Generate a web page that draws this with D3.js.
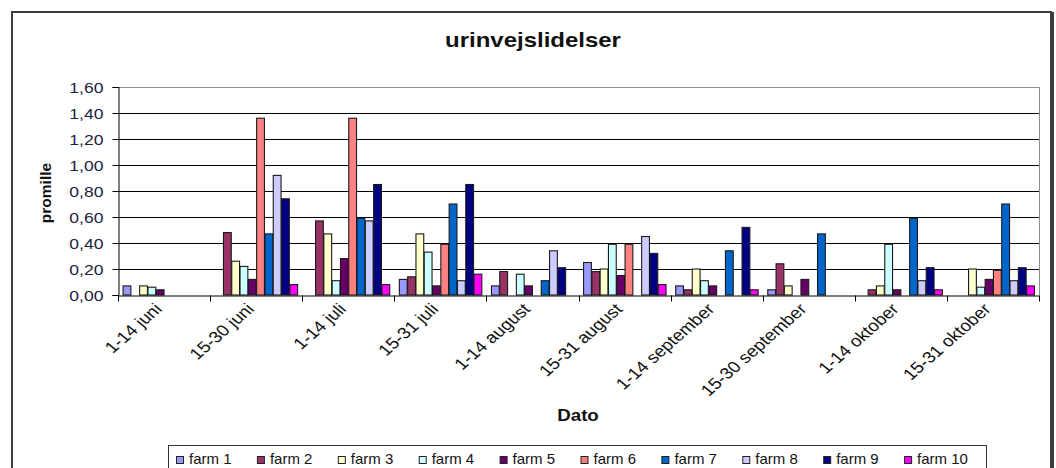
<!DOCTYPE html>
<html><head><meta charset="utf-8">
<script src="https://cdn.jsdelivr.net/npm/d3@7"></script>
<style>
html,body{margin:0;padding:0;background:#fff;}
svg{display:block;font-family:"Liberation Sans",Arial,sans-serif;}
</style></head>
<body>
<svg id="c" width="1056" height="468"></svg>
<script>
const categories = ["1-14 juni","15-30 juni","1-14 juli","15-31 juli","1-14 august","15-31 august","1-14 september","15-30 september","1-14 oktober","15-31 oktober"];
const seriesNames = ["farm 1","farm 2","farm 3","farm 4","farm 5","farm 6","farm 7","farm 8","farm 9","farm 10"];
const farm1  = [0.07,0,0,0.12,0.07,0.25,0.07,0.04,0,0];
const farm2  = [0,0.48,0.57,0.14,0.18,0.18,0.04,0.24,0.04,0];
const farm3  = [0.07,0.26,0.47,0.47,0,0.20,0.20,0.07,0.07,0.20];
const farm4  = [0.06,0.22,0.11,0.33,0.16,0.39,0.11,0,0.39,0.06];
const farm5  = [0.04,0.12,0.28,0.07,0.07,0.15,0.07,0.12,0.04,0.12];
const farm6  = [0,1.36,1.36,0.39,0,0.39,0,0,0,0.19];
const farm7  = [0,0.47,0.59,0.70,0.11,0,0.34,0.47,0.59,0.70];
const farm8  = [0,0.92,0.57,0.11,0.34,0.45,0,0,0.11,0.11];
const farm9  = [0,0.74,0.85,0.85,0.21,0.32,0.52,0,0.21,0.21];
const farm10 = [0,0.08,0.08,0.16,0,0.08,0.04,0,0.04,0.07];
const yTicks = [0,0.2,0.4,0.6,0.8,1.0,1.2,1.4,1.6];
const colors = ["#9999FF","#993366","#FFFFCC","#CCFFFF","#660066","#FF8080","#0066CC","#CCCCFF","#000080","#FF00FF"];
const title = "urinvejslidelser", xTitle = "Dato", yTitle = "promille";

const values = [farm1,farm2,farm3,farm4,farm5,farm6,farm7,farm8,farm9,farm10];
const SX = 1.17; // horizontal stretch of the text in the reference

const svg = d3.select("#c");
const L = 118, R = 1039, T = 87, B = 295;

// outer frame
svg.append("rect").attr("x",12).attr("y",12).attr("width",1039).attr("height",470)
  .attr("fill","#fff").attr("stroke","#3c3c3c").attr("stroke-width",2);
svg.append("line").attr("x1",1052.5).attr("x2",1052.5).attr("y1",12).attr("y2",468)
  .attr("stroke","#3c3c3c").attr("stroke-width",3);

const x0 = d3.scaleBand().domain(categories).range([L,R]).padding(0);
const x1 = d3.scaleBand().domain(seriesNames).range([0,x0.bandwidth()]).paddingInner(0).paddingOuter(0.55);
const y = d3.scaleLinear().domain([0,1.6]).range([B,T]);

const fmt = v => d3.format(".2f")(v).replace(".",",");

// gridlines
svg.append("g").selectAll("line").data(yTicks.slice(1)).join("line")
  .attr("x1",L).attr("x2",R).attr("y1",d=>Math.round(y(d))+0.5).attr("y2",d=>Math.round(y(d))+0.5)
  .attr("stroke",(d,i,a)=> i===a.length-1 ? "#8c8c8c" : "#000").attr("stroke-width",1);
// plot area right border
svg.append("line").attr("x1",R+0.5).attr("x2",R+0.5).attr("y1",T).attr("y2",B)
  .attr("stroke","#8c8c8c");

// bars
const g = svg.append("g");
seriesNames.forEach((s,si)=>{
  g.append("g").selectAll("rect").data(values[si].map((v,ci)=>({v,c:categories[ci]}))).join("rect")
    .filter(d=>d.v>0)
    .attr("x",d=>x0(d.c)+x1(s)+0.5)
    .attr("y",d=>y(d.v))
    .attr("width",x1.bandwidth()-0.5)
    .attr("height",d=>B-y(d.v))
    .attr("fill",colors[si]).attr("stroke","#1a1a1a").attr("stroke-width",1.1);
});

// y axis
const yAxis = d3.axisLeft(y).tickValues(yTicks).tickSize(6).tickFormat(fmt);
const ya = svg.append("g").attr("transform",`translate(${L+0.5},0)`).call(yAxis);
ya.select(".domain").attr("stroke","#000");
ya.selectAll(".tick line").attr("stroke","#000");
ya.selectAll(".tick text").attr("font-size",15).attr("fill","#1c2340")
  .attr("x",0).attr("dy","0.35em")
  .attr("transform",d=>`translate(-15,0) scale(${SX},1)`);

// x axis
const xAxis = d3.axisBottom(x0).tickSize(0).tickFormat("");
const xa = svg.append("g").attr("transform",`translate(0,${B+0.5})`).call(xAxis);
xa.select(".domain").attr("stroke","#000");
xa.append("g").selectAll("line").data(d3.range(categories.length+1)).join("line")
  .attr("x1",i=>Math.round(L+i*x0.step())+0.5).attr("x2",i=>Math.round(L+i*x0.step())+0.5)
  .attr("y1",0).attr("y2",6).attr("stroke","#000");

svg.append("g").selectAll("text").data(categories).join("text")
  .attr("transform",d=>`translate(${x0(d)+x0.bandwidth()/2-1},${B+15}) scale(1.18,1) rotate(-46)`)
  .attr("text-anchor","end").attr("font-size",16).attr("fill","#111")
  .text(d=>d);

// titles
svg.append("text").attr("transform",`translate(533,47) scale(${SX},1)`).attr("text-anchor","middle")
  .attr("font-size",20.5).attr("font-weight","bold").attr("fill","#111").text(title);
svg.append("text").attr("transform",`translate(578,421) scale(${SX},1)`).attr("text-anchor","middle")
  .attr("font-size",16).attr("font-weight","bold").attr("fill","#111").text(xTitle);
svg.append("text").attr("transform",`translate(51,193) rotate(-90)`).attr("text-anchor","middle")
  .attr("font-size",15.5).attr("font-weight","bold").attr("fill","#111").text(yTitle);

// legend
svg.append("rect").attr("x",168.5).attr("y",445.5).attr("width",818).attr("height",40)
  .attr("fill","#fff").attr("stroke","#333");
const lg = svg.append("g").selectAll("g").data(seriesNames).join("g")
  .attr("transform",(d,i)=>`translate(${176+i*80.9},0)`);
lg.append("rect").attr("x",0.5).attr("y",456.5).attr("width",7).attr("height",7)
  .attr("fill",(d,i)=>colors[i]).attr("stroke","#222");
lg.append("text").attr("x",13).attr("y",464).attr("font-size",15).attr("fill","#111").text(d=>d);
</script>
</body></html>
